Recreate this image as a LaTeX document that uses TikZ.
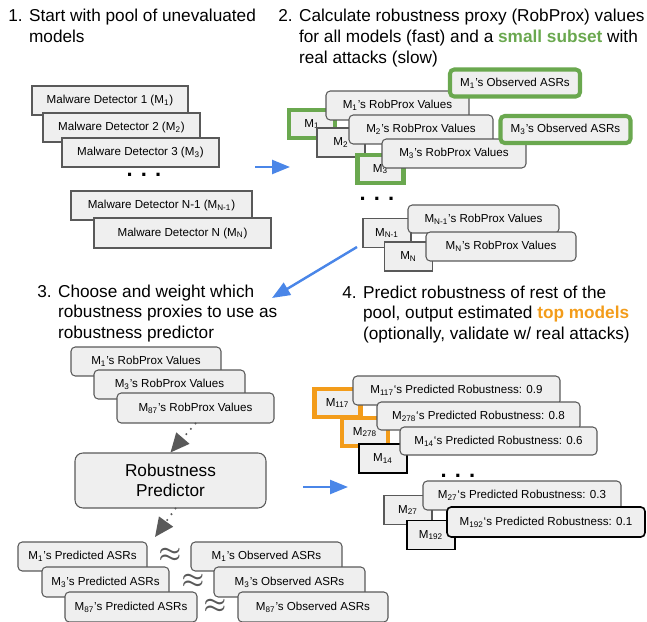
\documentclass[tikz,border=0pt]{standalone}
\usepackage{fontspec}
\setmainfont{Liberation Sans}
\usetikzlibrary{arrows.meta}
\definecolor{fillgray}{HTML}{EFEFEF}
\definecolor{edgegray}{HTML}{595959}
\definecolor{pickgreen}{HTML}{6AA84F}
\definecolor{toporange}{HTML}{F39C1A}
\definecolor{flowblue}{HTML}{4A86E8}
\tikzset{
  sqbox/.style={draw=edgegray,fill=fillgray,line width=.6pt,inner sep=0pt,
    minimum height=.58cm,font=\fontsize{6.6}{8}\selectfont},
  rdbox/.style={sqbox,rounded corners=2.4pt},
  mbox/.style={sqbox,minimum width=.96cm},
  greenline/.style={draw=pickgreen,line width=2.3pt,minimum width=.92cm,minimum height=.56cm},
  orangeline/.style={draw=toporange,line width=2.3pt,minimum width=.92cm,minimum height=.56cm},
  blackline/.style={draw=black,line width=.9pt},
  heading/.style={anchor=base west,inner sep=0pt,font=\fontsize{9.8}{11.7}\selectfont},
  dots/.style={inner sep=0pt,font=\fontsize{12.5}{12.5}\selectfont\bfseries},
  approx/.style={inner sep=0pt,text=edgegray,font=\fontsize{15}{15}\selectfont\boldmath},
  flow/.style={draw=flowblue,line width=1.4pt,-{Triangle[length=3.6mm,width=2.8mm]}},
  feed/.style={draw=edgegray,line width=1.3pt,line cap=round,dash pattern=on 0pt off 4pt,
    -{Triangle[length=3.8mm,width=3.4mm]}}
}

\begin{document}
\begin{tikzpicture}[x=0.02cm,y=-0.02cm]
  \useasboundingbox (0,0) rectangle (647,622);
  % headings
  \node[heading] (h1) at (8,22) {\begin{tabular}[t]{@{}l@{ }l@{}}1. & Start with pool of unevaluated\\ & models\end{tabular}};
  \node[heading] (h2) at (278,22) {\begin{tabular}[t]{@{}l@{ }l@{}}2. & Calculate robustness proxy (RobProx) values\\
    & for all models (fast) and a \textcolor{pickgreen}{\bfseries small subset} with\\ & real attacks (slow)\end{tabular}};
  \node[heading] (h3) at (37,297) {\begin{tabular}[t]{@{}l@{ }l@{}}3. & Choose and weight which\\
    & robustness proxies to use as\\ & robustness predictor\end{tabular}};
  \node[heading] (h4) at (342,298) {\begin{tabular}[t]{@{}l@{ }l@{}}4. & Predict robustness of rest of the\\
    & pool, output estimated \textcolor{toporange}{\bfseries top models}\\ & (optionally, validate w/ real attacks)\end{tabular}};

  % pool of models
  \node[sqbox,minimum width=3.12cm] (md1) at (110,100.5) {Malware Detector 1 (M\textsubscript{1})};
  \node[sqbox,minimum width=3.14cm] (md2) at (121.5,127.5) {Malware Detector 2 (M\textsubscript{2})};
  \node[sqbox,minimum width=3.14cm] (md3) at (140.5,152.5) {Malware Detector 3 (M\textsubscript{3})};
  \node[dots] (mddots) at (144,175) {. . .};
  \node[sqbox,minimum width=3.62cm] (mdn1) at (161.5,205.5) {Malware Detector N-1 (M\textsubscript{N-1})};
  \node[sqbox,minimum width=3.54cm,minimum height=.6cm] (mdn) at (182.5,233) {Malware Detector N (M\textsubscript{N})};

  % robustness proxies
  \node[mbox,greenline] (s1) at (312,124) {M\textsubscript{1}};
  \node[rdbox,minimum width=2.86cm] (rp1) at (397.5,105.5) {M\textsubscript{1}'s RobProx Values};
  \node[mbox] (s2) at (341,142.5) {M\textsubscript{2}};
  \node[rdbox,minimum width=2.88cm] (rp2) at (421,129.5) {M\textsubscript{2}'s RobProx Values};
  \node[mbox,greenline] (s3) at (380.5,169) {M\textsubscript{3}};
  \node[rdbox,minimum width=2.88cm] (rp3) at (454,153.5) {M\textsubscript{3}'s RobProx Values};
  \node[rdbox,greenline,minimum width=2.6cm,minimum height=.54cm] (obs1) at (515,83) {M\textsubscript{1}'s Observed ASRs};
  \node[rdbox,greenline,minimum width=2.6cm,minimum height=.54cm] (obs3) at (565.5,129.5) {M\textsubscript{3}'s Observed ASRs};
  \node[dots] (rpdots) at (377,199) {. . .};
  \node[mbox] (sn1) at (387,233) {M\textsubscript{N-1}};
  \node[rdbox,minimum width=3.02cm,minimum height=.56cm] (rpn1) at (483.5,219) {M\textsubscript{N-1}'s RobProx Values};
  \node[mbox] (sn) at (408.5,256.5) {M\textsubscript{N}};
  \node[rdbox,minimum width=3cm] (rpn) at (501,246.5) {M\textsubscript{N}'s RobProx Values};

  % predictor
  \node[rdbox,minimum width=3cm] (prp1) at (146,361.5) {M\textsubscript{1}'s RobProx Values};
  \node[rdbox,minimum width=3.02cm] (prp3) at (169.5,384.5) {M\textsubscript{3}'s RobProx Values};
  \node[rdbox,minimum width=3.14cm,minimum height=.6cm] (prp87) at (195.5,408) {M\textsubscript{87}'s RobProx Values};
  \node[rdbox,rounded corners=4.5pt,minimum width=3.82cm,minimum height=1.1cm,align=center,
    font=\fontsize{9.8}{11.5}\selectfont] (pred) at (170.5,480.5) {Robustness\\Predictor};
  \node[rdbox,minimum width=2.58cm] (pa1) at (82.5,556.5) {M\textsubscript{1}'s Predicted ASRs};
  \node[rdbox,minimum width=2.54cm,minimum height=.6cm] (pa3) at (105.5,582) {M\textsubscript{3}'s Predicted ASRs};
  \node[rdbox,minimum width=2.64cm,minimum height=.6cm] (pa87) at (131,607) {M\textsubscript{87}'s Predicted ASRs};
  \node[rdbox,minimum width=3.02cm] (oa1) at (266.5,556.5) {M\textsubscript{1}'s Observed ASRs};
  \node[rdbox,minimum width=3.02cm,minimum height=.6cm] (oa3) at (289.5,582) {M\textsubscript{3}'s Observed ASRs};
  \node[rdbox,minimum width=3cm,minimum height=.6cm] (oa87) at (313,607) {M\textsubscript{87}'s Observed ASRs};
  \node[approx] (ap1) at (170,555) {$\approx$};
  \node[approx] (ap3) at (193,581) {$\approx$};
  \node[approx] (ap87) at (215,606) {$\approx$};

  % estimated top models
  \node[mbox,orangeline] (t117) at (337.5,403) {M\textsubscript{117}};
  \node[rdbox,minimum width=4.14cm] (p117) at (456.5,390.5) {M\textsubscript{117}`s Predicted Robustness: 0.9};
  \node[mbox,orangeline] (t278) at (365,432) {M\textsubscript{278}};
  \node[rdbox,minimum width=4.06cm,minimum height=.56cm] (p278) at (478.5,416) {M\textsubscript{278}`s Predicted Robustness: 0.8};
  \node[mbox,blackline] (t14) at (383,458.5) {M\textsubscript{14}};
  \node[rdbox,minimum width=3.94cm,minimum height=.56cm] (p14) at (498.5,441) {M\textsubscript{14}`s Predicted Robustness: 0.6};
  \node[dots] (tdots) at (458,476) {. . .};
  \node[mbox] (t27) at (408,510) {M\textsubscript{27}};
  \node[rdbox,minimum width=3.96cm] (p27) at (522,495.5) {M\textsubscript{27}`s Predicted Robustness: 0.3};
  \node[mbox,blackline] (t192) at (431,535) {M\textsubscript{192}};
  \node[rdbox,blackline,minimum width=3.96cm,minimum height=.6cm] (p192) at (546,522) {M\textsubscript{192}`s Predicted Robustness: 0.1};

  % connectors
  \coordinate (f1a) at (255,167);
  \coordinate (f1b) at (290,167);
  \coordinate (f2a) at (357,247);
  \coordinate (f2b) at (272,298);
  \coordinate (f3a) at (303,487);
  \coordinate (f3b) at (348,487);
  \coordinate (feedend) at (155,537);
  \draw[flow] (f1a) -- (f1b);
  \draw[flow] (f2a) -- (f2b);
  \draw[flow] (f3a) -- (f3b);
  \draw[feed] (prp87.south) -- (pred.north);
  \draw[feed] ([xshift=.1cm]pred.south) -- (feedend);
\end{tikzpicture}
\end{document}
